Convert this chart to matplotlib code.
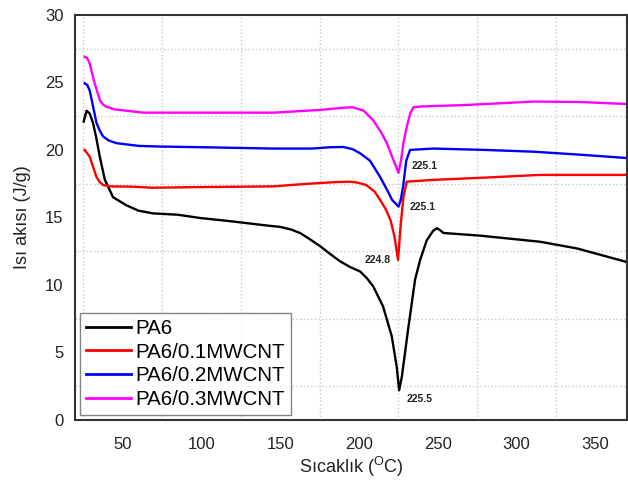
import numpy as np
import matplotlib
matplotlib.use("Agg")
import matplotlib.pyplot as plt
from matplotlib.ticker import MultipleLocator

plt.rcParams['font.family'] = ['Liberation Sans', 'DejaVu Sans']
plt.rcParams['mathtext.default'] = 'regular'

# DSC heating curves, heat flow (J/g) vs temperature (C)
x_pa6 = [25.2, 27, 29, 31.1, 33, 35.4, 38.6, 43.8, 52.3, 60, 69.3, 85, 99, 120, 141.6, 150,
         157, 162.5, 168, 175, 181.6, 188, 194.3, 200.7, 205, 209, 215.3, 220.8, 224, 225.5,
         227.2, 231.4, 235.6, 238.8, 243, 247, 249.4, 251, 253.6, 277, 315, 338.6, 370]
y_pa6 = [22.1, 22.9, 22.7, 22.0, 21.0, 19.5, 17.8, 16.5, 15.9, 15.5, 15.3, 15.2, 14.96, 14.7,
         14.4, 14.3, 14.1, 13.85, 13.45, 12.9, 12.3, 11.75, 11.33, 11.0, 10.5, 9.9, 8.4, 6.2,
         3.9, 2.2, 3.2, 6.9, 10.4, 11.85, 13.3, 14.0, 14.2, 14.1, 13.85, 13.65, 13.2, 12.7, 11.7]

x_01 = [25.8, 29, 31, 33.3, 35.5, 37.5, 42, 56, 69, 100, 145.6, 162.5, 175, 186, 194, 199,
        204.6, 210, 213.4, 217, 220, 222.5, 224.8, 226.5, 228.2, 230.3, 247, 280, 315, 370]
y_01 = [20.0, 19.5, 18.8, 18.0, 17.6, 17.4, 17.3, 17.28, 17.2, 17.25, 17.3, 17.45, 17.55,
        17.62, 17.65, 17.58, 17.4, 16.9, 16.3, 15.6, 14.8, 13.6, 11.85, 14.5, 16.5, 17.65,
        17.78, 17.95, 18.15, 18.15]

x_02 = [25.8, 27.5, 29, 31, 33.3, 35.5, 37.5, 41, 46, 60, 73.5, 100, 146, 170, 182, 190,
        196, 200.7, 207, 213.4, 218, 221, 225.1, 226.5, 228, 230, 232.4, 247, 280, 310.6,
        340, 370]
y_02 = [24.94, 24.8, 24.4, 23.3, 22.0, 21.4, 21.0, 20.7, 20.5, 20.3, 20.25, 20.2, 20.1, 20.1,
        20.2, 20.22, 20.05, 19.75, 19.2, 18.0, 17.0, 16.3, 15.8, 16.3, 17.3, 19.2, 20.0, 20.1,
        20.0, 19.87, 19.65, 19.4]

x_03 = [25.8, 27.5, 29, 32, 35.4, 37.5, 39.6, 45, 63, 100, 146, 175, 190, 196, 203, 209,
        214, 217.7, 221, 225.1, 226.8, 228.2, 230.3, 232.5, 234.6, 240, 268.5, 310.6, 340, 370]
y_03 = [26.9, 26.8, 26.4, 25.0, 23.7, 23.35, 23.2, 23.0, 22.76, 22.76, 22.76, 22.96, 23.12,
        23.16, 22.9, 22.2, 21.3, 20.5, 19.5, 18.3, 19.3, 20.5, 21.7, 22.7, 23.16, 23.22, 23.33,
        23.58, 23.55, 23.4]

series = [
    ("PA6", x_pa6, y_pa6, "black", (15, -6)),
    ("PA6/0.1MWCNT", x_01, y_01, "red", (-15, 0)),
    ("PA6/0.2MWCNT", x_02, y_02, "blue", (17, 0)),
    ("PA6/0.3MWCNT", x_03, y_03, "magenta", (19, 5)),
]

fig = plt.figure(figsize=(6.28, 4.80), dpi=100)
ax = fig.add_axes([0.119, 0.125, 0.879, 0.844])

for name, xs, ys, col, off in series:
    ax.plot(xs, ys, color=col, lw=1.7, label=name, solid_joinstyle="round")
    # mark the melting peak temperature
    i = int(np.argmin(ys))
    ax.annotate("%.1f" % xs[i], xy=(xs[i], ys[i]), xytext=off, textcoords="offset points",
                ha="center", va="center", fontsize=7.5, fontweight="bold", color="#222222")

ax.set_xlim(19.5, 370)
ax.set_ylim(0, 30)
ax.xaxis.set_major_locator(MultipleLocator(50))
ax.xaxis.set_minor_locator(MultipleLocator(50, offset=25))
ax.yaxis.set_major_locator(MultipleLocator(5))
ax.yaxis.set_minor_locator(MultipleLocator(5, offset=2.5))
ax.grid(which="minor", color="#c8c8c8", ls=":", lw=1)
ax.tick_params(which="both", length=0, labelsize=12, labelcolor="#222222", pad=8)
ax.tick_params(axis="x", pad=12)

for s in ax.spines.values():
    s.set_color("#333333")
    s.set_linewidth(1.5)

ax.set_xlabel(r"Sıcaklık ($^{O}$C)", fontsize=13, color="#222222", labelpad=2)
ax.set_ylabel("Isı akısı (J/g)", fontsize=13, color="#222222", labelpad=10)

leg = ax.legend(loc="lower left", fontsize=14.8, frameon=True, fancybox=False,
                handlelength=2.2, handletextpad=0.2, borderpad=0.3, labelspacing=0.22,
                borderaxespad=0.25)
leg.get_frame().set_edgecolor("#666666")
leg.get_frame().set_linewidth(1.0)
for h in leg.get_lines():
    h.set_linewidth(2)

fig.savefig("out.png", dpi=100)
